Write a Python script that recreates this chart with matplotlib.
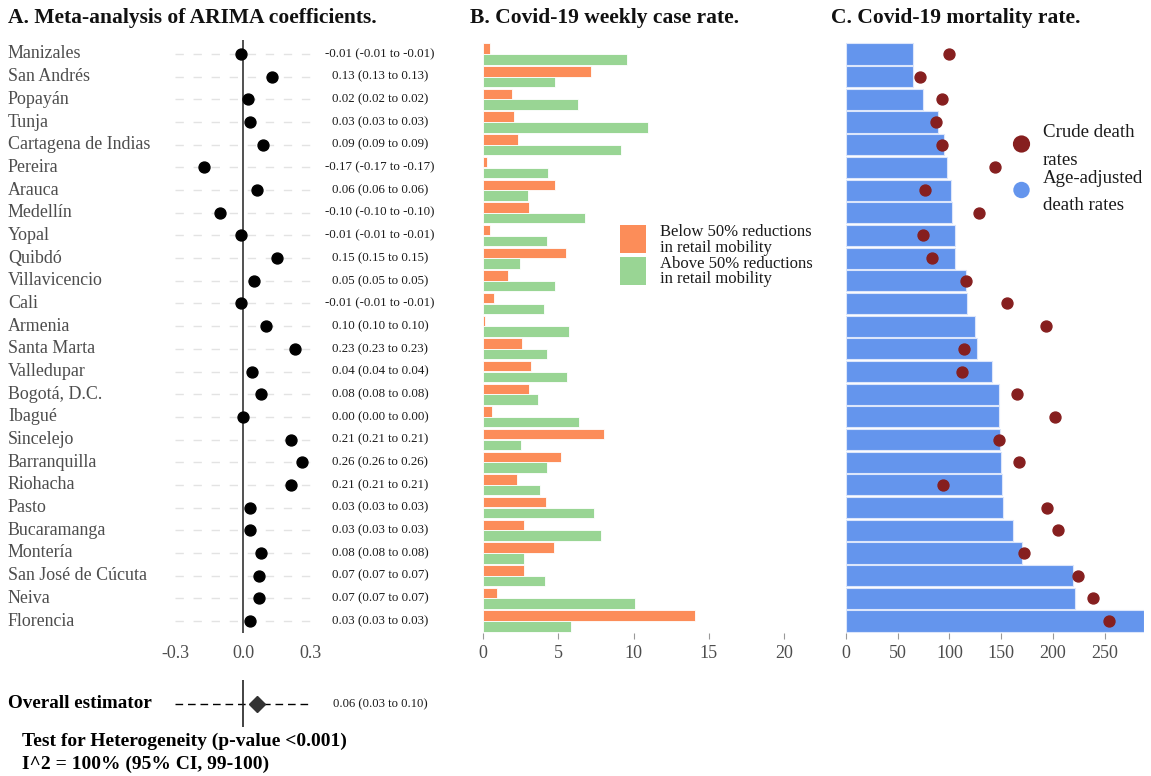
import matplotlib
matplotlib.use('Agg')
import numpy as np
import matplotlib.pyplot as plt
from matplotlib import transforms
from matplotlib.patches import Rectangle, Circle

# ---------------- data ----------------
cities = ["Manizales", "San Andrés", "Popayán", "Tunja", "Cartagena de Indias", "Pereira",
          "Arauca", "Medellín", "Yopal", "Quibdó", "Villavicencio", "Cali", "Armenia",
          "Santa Marta", "Valledupar", "Bogotá, D.C.", "Ibagué", "Sincelejo", "Barranquilla",
          "Riohacha", "Pasto", "Bucaramanga", "Montería", "San José de Cúcuta", "Neiva", "Florencia"]
coef = [-0.01, 0.13, 0.02, 0.03, 0.09, -0.17, 0.06, -0.10, -0.01, 0.15, 0.05, -0.01, 0.10,
        0.23, 0.04, 0.08, 0.00, 0.21, 0.26, 0.21, 0.03, 0.03, 0.08, 0.07, 0.07, 0.03]
ci_low = list(coef)
ci_high = list(coef)
overall_est = 0.06
overall_low = 0.03
overall_high = 0.10

cases_below = [0.49, 7.15, 1.93, 2.08, 2.35, 0.29, 4.78, 3.03, 0.49, 5.49, 1.66, 0.73, 0.11,
               2.61, 3.19, 3.03, 0.60, 8.06, 5.18, 2.28, 4.16, 2.75, 4.70, 2.72, 0.93, 14.09]
cases_above = [9.59, 4.81, 6.33, 10.99, 9.17, 4.30, 3.01, 6.76, 4.27, 2.44, 4.81, 4.08, 5.69,
               4.25, 5.60, 3.65, 6.40, 2.55, 4.27, 3.81, 7.40, 7.84, 2.75, 4.10, 10.10, 5.82]

adj_rates = [64.3, 65.0, 74.6, 89.1, 94.6, 97.8, 101.6, 102.0, 104.9, 105.2, 115.5, 117.1, 125.1,
             126.4, 141.2, 147.6, 148.3, 148.9, 149.9, 150.9, 151.5, 161.5, 170.2, 219.7, 221.3, 288.0]
crude_rates = [100.0, 71.4, 93.0, 87.2, 92.6, 143.8, 76.5, 129.0, 74.0, 83.0, 116.1, 156.0, 193.3,
               114.2, 111.9, 165.3, 202.0, 148.0, 167.6, 93.3, 193.9, 205.2, 172.1, 224.5, 239.0, 254.1]

a_ticks = [-0.3, 0.0, 0.3]
a_ticklabels = ["-0.3", "0.0", "0.3"]
b_ticks = [0, 5, 10, 15, 20]
c_ticks = [0, 50, 100, 150, 200, 250]

# ---------------- style ----------------
plt.rcParams['font.family'] = ['Liberation Serif', 'DejaVu Serif']
ORANGE = '#fc8d59'
GREEN = '#99d594'
BLUE = '#6495ed'
DARKRED = '#861f1f'
GRAY = '#4d4d4d'

W, H = 1151, 776
fig = plt.figure(figsize=(W / 100, H / 100), dpi=100)


def px_axes(left, top, right, bottom):
    return fig.add_axes([left / W, 1 - bottom / H, (right - left) / W, (bottom - top) / H])


TOP, BOT = 40, 633
ROW0, ROWSTEP = 54, 22.68
ylim = ((BOT - ROW0) / ROWSTEP, (TOP - ROW0) / ROWSTEP)
rows = np.arange(len(cities))

# ---------------- panel A ----------------
axA = px_axes(175, TOP, 311, BOT)
axA.set_xlim(-0.3, 0.3)
axA.set_ylim(*ylim)
for r in rows:
    axA.axhline(r, color='#e3e3e3', lw=1, ls=(0, (6, 7)), zorder=0)
axA.axvline(0, color='#333333', lw=1.2, zorder=1)
axA.scatter(coef, rows, s=62, color='black', zorder=3, clip_on=False)
axA.set_xticks(a_ticks)
axA.set_xticklabels(a_ticklabels, color=GRAY, fontsize=13)
axA.tick_params(axis='x', length=0, pad=9)
axA.set_yticks([])
for s in axA.spines.values():
    s.set_visible(False)

trA_lab = transforms.blended_transform_factory(fig.transFigure, axA.transData)
for r, name, c, lo, hi in zip(rows, cities, coef, ci_low, ci_high):
    fig.text(8 / W, r, name, transform=trA_lab, ha='left', va='center', fontsize=12.9, color=GRAY)
    fig.text(380 / W, r, f"{c:.2f} ({lo:.2f} to {hi:.2f})", transform=trA_lab,
             ha='center', va='center', fontsize=9.3, color='#1a1a1a')

# overall estimator
axO = px_axes(175, 680, 311, 727)
axO.set_xlim(-0.3, 0.3)
axO.set_ylim(-1, 1)
axO.axhline(0, color='black', lw=1, ls=(0, (5.5, 3.5)), zorder=1)
axO.axvline(0, color='#222222', lw=1.2, zorder=2)
axO.plot([overall_est], [0], marker='D', markersize=8.2, color='#333333', zorder=3, clip_on=False)
axO.axis('off')
fig.text(8 / W, 1 - 704 / H, "Overall estimator", ha='left', va='center', fontsize=13.8,
         fontweight='bold', color='black')
fig.text(380 / W, 1 - 704 / H, f"{overall_est:.2f} ({overall_low:.2f} to {overall_high:.2f})",
         ha='center', va='center', fontsize=9.1, color='#1a1a1a')
fig.text(22 / W, 1 - 741 / H, "Test for Heterogeneity (p-value <0.001)", ha='left', va='center',
         fontsize=14, fontweight='bold', color='black')
fig.text(22 / W, 1 - 764 / H, "I^2 = 100% (95% CI, 99-100)", ha='left', va='center',
         fontsize=14, fontweight='bold', color='black')

# ---------------- panel B ----------------
axB = px_axes(483, TOP, 784, BOT)
axB.set_xlim(0, 20)
axB.set_ylim(*ylim)
axB.barh(rows - 0.235, cases_below, height=0.46, color=ORANGE, edgecolor='white', linewidth=0.6)
axB.barh(rows + 0.235, cases_above, height=0.46, color=GREEN, edgecolor='white', linewidth=0.6)
axB.set_xticks(b_ticks)
axB.set_xticklabels([str(t) for t in b_ticks], color=GRAY, fontsize=13)
axB.tick_params(axis='x', length=4, color='#999999', pad=5)
axB.set_yticks([])
for s in axB.spines.values():
    s.set_visible(False)

# ---------------- panel C ----------------
axC = px_axes(846, TOP, 1144, BOT)
axC.set_xlim(0, 288)
axC.set_ylim(*ylim)
axC.barh(rows, adj_rates, height=0.93, color=BLUE, edgecolor='#dce6fb', linewidth=0.8)
axC.scatter(crude_rates, rows, s=62, color=DARKRED, zorder=3, clip_on=False)
axC.set_xticks(c_ticks)
axC.set_xticklabels([str(t) for t in c_ticks], color=GRAY, fontsize=13)
axC.tick_params(axis='x', length=4, color='#999999', pad=5)
axC.set_yticks([])
for s in axC.spines.values():
    s.set_visible(False)

# ---------------- overlay: titles & legends ----------------
ov = fig.add_axes([0, 0, 1, 1], zorder=10)
ov.set_xlim(0, W)
ov.set_ylim(H, 0)
ov.axis('off')
ov.patch.set_alpha(0)

for x, t in [(8, "A. Meta-analysis of ARIMA coefficients."),
             (470, "B. Covid-19 weekly case rate."),
             (831, "C. Covid-19 mortality rate.")]:
    ov.text(x, 23.5, t, ha='left', va='baseline', fontsize=15.5, fontweight='bold', color='#111111')

# legend B
ov.add_patch(Rectangle((620, 225), 26, 28, facecolor=ORANGE, edgecolor='none'))
ov.add_patch(Rectangle((620, 256.5), 26, 28, facecolor=GREEN, edgecolor='none'))
for yb, t in [(236, "Below 50% reductions"), (251.5, "in retail mobility"),
              (267.5, "Above 50% reductions"), (283, "in retail mobility")]:
    ov.text(660, yb, t, ha='left', va='baseline', fontsize=12, color='#1a1a1a')

# legend C
ov.add_patch(Circle((1021.5, 144), 8.6, facecolor=DARKRED, edgecolor='none'))
ov.add_patch(Circle((1021.5, 190), 8.2, facecolor=BLUE, edgecolor='none'))
for yb, t in [(137, "Crude death"), (165, "rates"), (183, "Age-adjusted"), (210, "death rates")]:
    ov.text(1043, yb, t, ha='left', va='baseline', fontsize=13.6, color='#1a1a1a')

fig.savefig('out.png', dpi=100)
